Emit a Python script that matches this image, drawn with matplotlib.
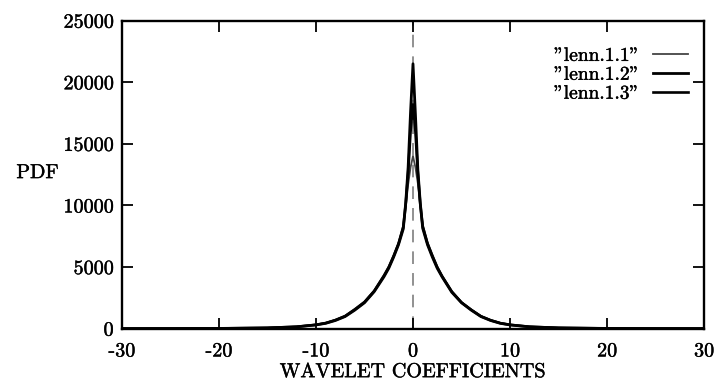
import matplotlib
matplotlib.use("Agg")
import matplotlib.pyplot as plt
import matplotlib.patheffects as pe

plt.rcParams['font.family'] = ['cmr10', 'DejaVu Serif']
plt.rcParams['axes.unicode_minus'] = False
plt.rcParams['axes.formatter.use_mathtext'] = False

# coefficient grid (x) and PDF values
coef = [-30, -25, -20, -15, -12, -10, -9, -8, -7, -6, -5, -4, -3, -2.5, -2, -1.5, -1, -0.75, -0.5, -0.25,
        0, 0.25, 0.5, 0.75, 1, 1.5, 2, 2.5, 3, 4, 5, 6, 7, 8, 9, 10, 12, 15, 20, 25, 30]

lenn_1_1 = [2, 5, 16, 65, 160, 330, 470, 720, 1050, 1600, 2200, 3100, 4350, 5050, 5950, 6950, 8400, 9900, 11700, 13100,
            14000, 13100, 11800, 10000, 8450, 7000, 6000, 5050, 4300, 3050, 2150, 1550, 1030, 700, 460, 320, 160, 65, 16, 5, 2]
lenn_1_2 = [2, 5, 14, 58, 145, 300, 430, 660, 980, 1500, 2100, 3000, 4200, 4900, 5800, 6800, 8100, 10200, 13100, 17600,
            21500, 17400, 12900, 10200, 8150, 6800, 5800, 4900, 4200, 2950, 2100, 1500, 980, 660, 430, 300, 145, 58, 14, 5, 2]
lenn_1_3 = [2, 5, 15, 60, 150, 310, 450, 690, 1010, 1550, 2150, 3050, 4280, 4980, 5880, 6880, 8250, 10100, 12600, 16000,
            18200, 16000, 12600, 10100, 8300, 6900, 5900, 4980, 4250, 3000, 2120, 1530, 1000, 680, 445, 310, 150, 60, 15, 5, 2]

series_names = ['"lenn.1.1"', '"lenn.1.2"', '"lenn.1.3"']
x_ticks = [-30, -20, -10, 0, 10, 20, 30]
y_ticks = [0, 5000, 10000, 15000, 20000, 25000]

bold = [pe.withStroke(linewidth=0.3, foreground='black')]

fig = plt.figure(figsize=(7.17, 3.83), dpi=100)
ax = fig.add_axes([0.170, 0.142, 0.812, 0.804])

ax.axvline(0, color='#888888', lw=1.3, ls=(0, (7, 5)), zorder=1)

ax.plot(coef, lenn_1_1, color='#444444', lw=1.3, label=series_names[0], zorder=3)
ax.plot(coef, lenn_1_2, color='black', lw=2.0, label=series_names[1], zorder=3)
ax.plot(coef, lenn_1_3, color='black', lw=1.9, label=series_names[2], zorder=3)

ax.set_xlim(-30, 30)
ax.set_ylim(0, 25000)
ax.set_xticks(x_ticks)
ax.set_yticks(y_ticks)
ax.set_xticklabels([str(t) for t in x_ticks])
ax.set_yticklabels([str(t) for t in y_ticks])
ax.tick_params(direction='in', length=8, width=1.3, top=True, right=True,
               labelsize=14.5, colors='black', pad=6)
ax.tick_params(axis='x', pad=10)
for s in ax.spines.values():
    s.set_linewidth(1.7)

ax.set_xlabel('WAVELET COEFFICIENTS', fontsize=14.5, labelpad=2)
ax.set_ylabel('PDF', fontsize=14.5, rotation=0, labelpad=0, va='center', ha='center')
ax.yaxis.set_label_coords(-0.145, 0.505)

leg = ax.legend(loc='upper right', bbox_to_anchor=(0.985, 0.94), frameon=False,
                markerfirst=False, fontsize=14, handlelength=1.8, handletextpad=0.7,
                labelspacing=0.05, borderaxespad=0)

for t in ax.get_xticklabels() + ax.get_yticklabels() + leg.get_texts() + [ax.xaxis.label, ax.yaxis.label]:
    t.set_path_effects(bold)

fig.savefig('out.png', dpi=100, facecolor='white')
